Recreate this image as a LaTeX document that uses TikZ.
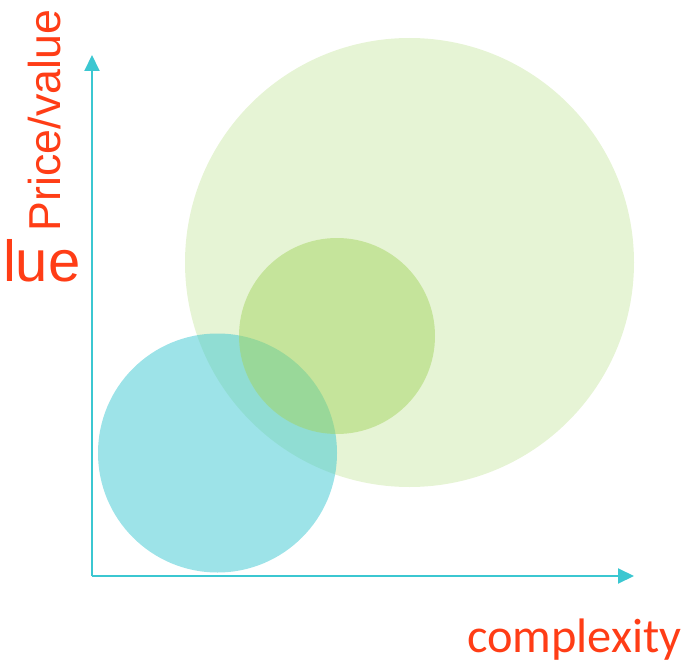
\documentclass[tikz,border=0pt]{standalone}
\usepackage{fontspec}
\setmainfont{Carlito}
\newfontfamily\arialish{Liberation Sans}
\usetikzlibrary{arrows.meta}
\definecolor{axiscyan}{RGB}{59,199,209}
\definecolor{leafgreen}{RGB}{164,213,98}
\definecolor{labelred}{RGB}{255,61,22}
\tikzset{
  axisline/.style={draw=axiscyan, line width=2pt, -{Triangle[length=16pt,width=15pt]}},
  lbl/.style={text=labelred, inner sep=0pt, outer sep=0pt}
}
\begin{document}
\begin{tikzpicture}[x=1pt,y=-1pt]
\useasboundingbox (0,0) rectangle (693,663);
% bubbles
\fill[leafgreen, fill opacity=0.27] (409.5,262.5) circle (224.5);
\fill[axiscyan, fill opacity=0.5] (217.5,453) circle (119.5);
\fill[leafgreen, fill opacity=0.5] (337,336) circle (98);
% axes
\coordinate (origin) at (92,576);
\coordinate (ytip) at (92,55);
\coordinate (xtip) at (634,576);
\draw[axisline] (origin) -- (ytip);
\draw[axisline] (origin) -- (xtip);
% labels
\node[lbl, rotate=90, anchor=base west, font=\arialish\fontsize{44.7}{50}\selectfont] (ylabel) at (60,231) {Price/value};
\node[lbl, anchor=base west, font=\arialish\fontsize{58}{62}\selectfont] (cut) at (3,281) {lue};
\node[lbl, anchor=base west, font=\fontsize{48.4}{53}\selectfont] (xlabel) at (467,652) {complexity};
\end{tikzpicture}
\end{document}
